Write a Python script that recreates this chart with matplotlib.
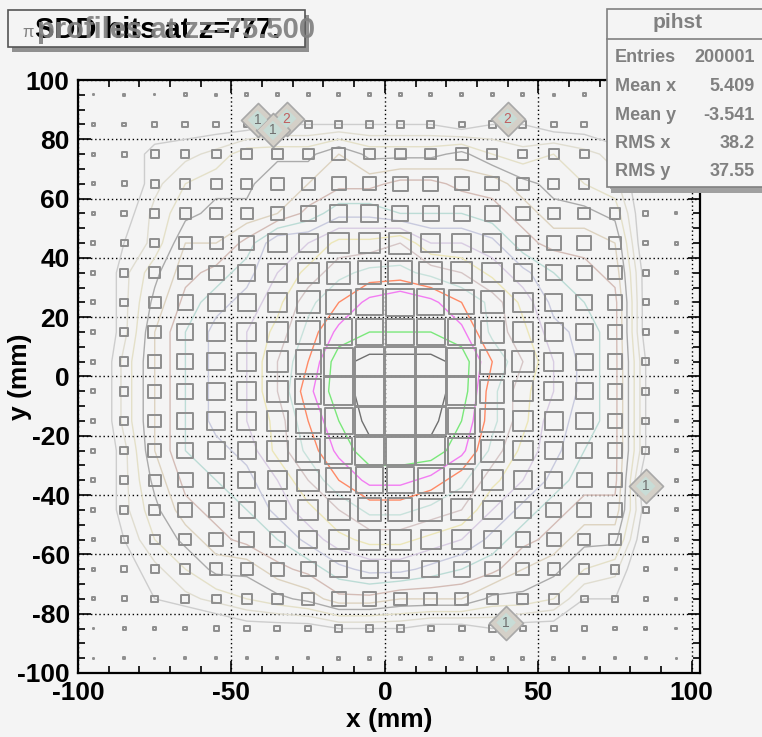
import numpy as np
import matplotlib.pyplot as plt
from matplotlib.patches import Rectangle
from matplotlib.collections import PatchCollection
from matplotlib.ticker import MultipleLocator

# bin centres (mm)
x_centers = [-95, -85, -75, -65, -55, -45, -35, -25, -15, -5,
             5, 15, 25, 35, 45, 55, 65, 75, 85, 95]
y_centers_top_down = [95, 85, 75, 65, 55, 45, 35, 25, 15, 5,
                      -5, -15, -25, -35, -45, -55, -65, -75, -85, -95]

# bin content (relative units), one row per y bin, top row first
content_rows = [
    [1, 2, 1, 3, 2, 3, 3, 3, 3, 3, 3, 3, 3, 3, 3, 2, 3, 2, 2, 1],
    [3, 4, 5, 6, 6, 6, 7, 7, 7, 7, 7, 7, 6, 7, 7, 6, 6, 5, 4, 3],
    [3, 5, 8, 8, 9, 11, 11, 11, 13, 11, 11, 11, 12, 10, 9, 10, 9, 8, 5, 3],
    [3, 5, 8, 10, 11, 11, 13, 13, 14, 14, 15, 15, 14, 14, 12, 11, 10, 9, 5, 3],
    [3, 6, 9, 11, 12, 12, 13, 15, 17, 17, 16, 16, 16, 15, 14, 12, 12, 11, 5, 2],
    [4, 7, 9, 13, 13, 15, 19, 19, 21, 21, 22, 19, 19, 18, 15, 14, 14, 13, 5, 3],
    [4, 8, 11, 14, 15, 17, 19, 21, 23, 24, 24, 23, 22, 20, 18, 16, 15, 14, 6, 3],
    [4, 8, 12, 15, 17, 18, 20, 23, 25, 27, 28, 27, 25, 23, 20, 17, 16, 15, 6, 3],
    [4, 8, 13, 16, 18, 19, 21, 24, 27, 28, 28, 28, 27, 23, 21, 18, 17, 15, 6, 3],
    [4, 9, 13, 16, 18, 19, 22, 25, 29, 30, 30, 30, 29, 25, 22, 19, 17, 15, 7, 3],
    [4, 9, 13, 16, 18, 19, 22, 26, 29, 30, 30, 30, 29, 24, 21, 19, 17, 15, 7, 3],
    [4, 9, 13, 16, 18, 19, 21, 25, 28, 30, 30, 30, 28, 24, 21, 18, 17, 15, 7, 3],
    [4, 8, 13, 16, 17, 18, 21, 24, 27, 29, 29, 29, 27, 23, 20, 18, 16, 15, 7, 3],
    [4, 8, 12, 15, 16, 17, 19, 22, 25, 27, 27, 26, 24, 21, 19, 17, 15, 15, 5, 3],
    [4, 8, 11, 14, 15, 16, 18, 20, 22, 24, 24, 23, 22, 19, 17, 15, 14, 14, 6, 3],
    [3, 7, 10, 12, 14, 15, 16, 18, 20, 21, 21, 20, 19, 17, 15, 14, 12, 12, 5, 3],
    [3, 6, 8, 10, 12, 12, 14, 15, 17, 18, 18, 17, 16, 15, 13, 12, 10, 9, 4, 2],
    [3, 5, 7, 8, 9, 10, 11, 12, 14, 14, 13, 13, 13, 11, 11, 10, 7, 7, 4, 2],
    [1, 3, 3, 4, 5, 6, 6, 6, 7, 7, 7, 6, 6, 7, 6, 6, 5, 4, 3, 2],
    [1, 2, 1, 2, 2, 2, 2, 2, 3, 3, 3, 3, 3, 3, 3, 3, 2, 2, 2, 1],
]

# contour levels and their colours (outer -> inner)
contour_levels = [7, 8.5, 10, 11.5, 13, 14.5, 16, 17.5, 19, 20.5, 22, 23.5,
                  25, 26.5, 28, 29.5]
contour_colors = ["#cdcdcd", "#e0ddd0", "#e4e0c8", "#ababab", "#ddd3c0",
                  "#d4bcb6", "#bcdcd6", "#c8cade", "#d8cce2", "#ece6b8",
                  "#d6c6c6", "#c8e2dc", "#ff8a66", "#f27cf2", "#7ae87a",
                  "#707070"]

# little numbered markers
marker_x = [-41.5, -32, -36.5, 40, 85, 39.5]
marker_y = [86.5, 87, 83, 87, -37, -83]
marker_text = ["1", "2", "1", "2", "1", "1"]
marker_text_color = ["#707070", "#c06060", "#707070", "#c06060", "#707070", "#707070"]

stats_names = ["Entries", "Mean x", "Mean y", "RMS x", "RMS y"]
stats_values = ["200001", "5.409", "-3.541", "38.2", "37.55"]

bg = "#f4f4f4"
grey = "#808080"
plt.rcParams["font.family"] = ["Liberation Sans", "DejaVu Sans"]
plt.rcParams["axes.unicode_minus"] = False

fig = plt.figure(figsize=(7.62, 7.37), dpi=100, facecolor=bg)
ax = fig.add_axes([78 / 762, 1 - 673 / 737, 622 / 762, 593 / 737])
ax.set_facecolor(bg)

z = np.array(content_rows, dtype=float)
xc = np.array(x_centers, dtype=float)
yc = np.array(y_centers_top_down, dtype=float)[::-1]
z_up = z[::-1]

# contours
ax.contour(xc, yc, z_up, levels=contour_levels, colors=contour_colors,
           linewidths=1.0, zorder=2)

# boxes, side proportional to content
zmax = z.max()
boxes = []
for j, yv in enumerate(y_centers_top_down):
    for i, xv in enumerate(x_centers):
        s = 10 * z[j, i] / zmax * 0.97
        boxes.append(Rectangle((xv - s / 2, yv - s / 2), s, s))
ax.add_collection(PatchCollection(boxes, facecolor="none", edgecolor="#8e8e8e",
                                  linewidth=1.4, zorder=3))

# numbered diamond markers
ax.scatter(marker_x, marker_y, marker="D", s=300, facecolor="#d4d0c8",
           edgecolor="#a8a8a8", linewidth=1.2, zorder=5)
ax.scatter(marker_x, marker_y, marker="D", s=100, facecolor="#c8dcd6",
           edgecolor="none", zorder=5)
for mx, my, mt, mc in zip(marker_x, marker_y, marker_text, marker_text_color):
    ax.text(mx, my, mt, ha="center", va="center", fontsize=10, color=mc, zorder=6)

ax.set_xlim(-100, 102.7)
ax.set_ylim(-100, 100)
ax.xaxis.set_major_locator(MultipleLocator(50))
ax.xaxis.set_minor_locator(MultipleLocator(10))
ax.yaxis.set_major_locator(MultipleLocator(20))
ax.yaxis.set_minor_locator(MultipleLocator(5))
ax.tick_params(which="both", direction="in", top=True, right=True,
               width=1.2, color="black")
ax.tick_params(which="major", length=9, labelsize=19, pad=6)
ax.tick_params(which="minor", length=5)
for lab in ax.get_xticklabels() + ax.get_yticklabels():
    lab.set_fontweight("bold")
ax.grid(True, which="major", linestyle=(0, (1, 2)), color="black", linewidth=1.0)
ax.set_axisbelow(True)
for sp in ax.spines.values():
    sp.set_linewidth(1.6)

ax.set_xlabel("x (mm)", fontsize=19, fontweight="bold", labelpad=2)
ax.set_ylabel("y (mm)", fontsize=19, fontweight="bold")
ax.yaxis.set_label_coords(-46 / 622, 0.5)

# title boxes
fig.patches.append(Rectangle((12 / 762, 1 - 52 / 737), 297 / 762, 37 / 737,
                             transform=fig.transFigure, facecolor="#909090",
                             edgecolor="none", zorder=1))
fig.patches.append(Rectangle((8 / 762, 1 - 47 / 737), 297 / 762, 37 / 737,
                             transform=fig.transFigure, facecolor=bg,
                             edgecolor="#555555", linewidth=1.2, zorder=2))
fig.text(22 / 762, 1 - 37 / 737, "\u03c0", fontsize=12, color=grey, zorder=3)
fig.text(35 / 762, 1 - 30 / 737, "SDD hits at z=-77.", fontsize=21,
         fontweight="bold", color="black", va="center", zorder=3)
fig.text(37 / 762, 1 - 30 / 737, "profiles at z=-75.500", fontsize=21,
         fontweight="bold", color=grey, va="center", zorder=4, alpha=0.92)

# stats box
fig.patches.append(Rectangle((611 / 762, 1 - 193 / 737), 160 / 762, 184 / 737,
                             transform=fig.transFigure, facecolor="#a0a0a0",
                             edgecolor="none", zorder=5))
fig.patches.append(Rectangle((607 / 762, 1 - 187 / 737), 160 / 762, 178 / 737,
                             transform=fig.transFigure, facecolor=bg,
                             edgecolor=grey, linewidth=1.2, zorder=6))
fig.add_artist(plt.Line2D([607 / 762, 1], [1 - 39 / 737, 1 - 39 / 737],
                          transform=fig.transFigure, color=grey, lw=1.2, zorder=7))
fig.text(678 / 762, 1 - 23 / 737, "pihst", fontsize=15, fontweight="bold",
         color=grey, ha="center", va="center", zorder=8)
for k, (nm, val) in enumerate(zip(stats_names, stats_values)):
    yy = 1 - (58 + 28.5 * k) / 737
    fig.text(615 / 762, yy, nm, fontsize=13, fontweight="bold", color=grey,
             va="center", zorder=8)
    fig.text(755 / 762, yy, val, fontsize=13, fontweight="bold", color=grey,
             va="center", ha="right", zorder=8)

fig.savefig("out.png", dpi=100, facecolor=bg)
